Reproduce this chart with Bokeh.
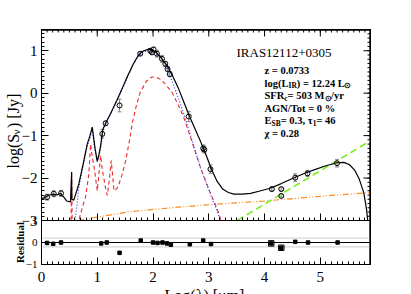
import numpy as np
from bokeh.plotting import figure
from bokeh.models import (Range1d, LinearAxis, FixedTicker, Label, BoxAnnotation,
                          Whisker, TeeHead, ColumnDataSource, CustomJSTickFormatter)
from bokeh.embed import file_html
from bokeh.resources import INLINE

# ---------------- data (log lambda [um], log S [Jy]) ----------------
tot_x = [0.0, 0.07, 0.14, 0.22, 0.28, 0.34, 0.40, 0.45, 0.52, 0.54, 0.545, 0.58, 0.67, 0.75, 0.82,
         0.87, 0.91, 0.96, 1.0, 1.03, 1.06, 1.10, 1.15, 1.25, 1.35, 1.45, 1.55, 1.65, 1.74, 1.82,
         1.90, 1.98, 2.05, 2.16, 2.25, 2.35, 2.45, 2.55, 2.65, 2.75, 2.85, 2.95, 3.05, 3.15, 3.25,
         3.35, 3.45, 3.60, 3.75, 3.90, 4.10, 4.30, 4.50, 4.70, 4.90, 5.10, 5.30, 5.42, 5.52, 5.62,
         5.70, 5.78, 5.83, 5.85]
tot_y = [-2.49, -2.45, -2.40, -2.38, -2.40, -2.36, -2.45, -2.54, -2.56, -1.86, -2.50, -2.52, -2.14, -1.65, -1.20,
         -1.00, -0.80, -1.30, -1.60, -1.45, -1.24, -0.85, -0.71, -0.45, -0.17, 0.12, 0.42, 0.70, 0.90, 0.99,
         1.03, 1.03, 0.97, 0.81, 0.65, 0.41, 0.13, -0.20, -0.53, -0.83, -1.13, -1.45, -1.80, -2.08, -2.26,
         -2.34, -2.38, -2.38, -2.36, -2.31, -2.24, -2.13, -2.01, -1.90, -1.80, -1.71, -1.64, -1.63, -1.68, -1.82,
         -2.03, -2.35, -2.75, -3.0]

sb_x = [0.60, 0.63, 0.67, 0.75, 0.82, 0.87, 0.91, 0.96, 1.0, 1.03, 1.06, 1.10, 1.15, 1.25, 1.35,
        1.45, 1.55, 1.65, 1.74, 1.82, 1.90, 1.98, 2.05, 2.15, 2.25, 2.35, 2.45, 2.55, 2.65, 2.75,
        2.85, 2.95, 3.05, 3.15, 3.21]
sb_y = [-3.0, -2.70, -2.20, -1.70, -1.25, -1.05, -0.85, -1.35, -1.62, -1.50, -1.30, -0.90, -0.73, -0.47, -0.19,
        0.10, 0.40, 0.68, 0.88, 0.97, 1.00, 0.98, 0.93, 0.85, 0.57, 0.25, -0.10, -0.49, -0.90, -1.32,
        -1.75, -2.10, -2.45, -2.78, -3.0]

cold_x = [0.53, 0.54, 0.55, 0.67, 0.73, 0.79, 0.85, 0.88, 0.91, 0.94, 0.97, 1.0, 1.03, 1.06, 1.09,
          1.12, 1.15, 1.18, 1.22, 1.25, 1.28, 1.30, 1.35, 1.39, 1.45, 1.51, 1.58, 1.63, 1.70, 1.77,
          1.88, 1.98, 2.05, 2.13, 2.23, 2.34, 2.45, 2.55, 2.65, 2.75, 2.85, 2.95, 3.05, 3.15, 3.22]
cold_y = [-3.0, -1.86, -3.0, -3.0, -2.70, -2.45, -1.90, -1.20, -1.50, -1.71, -2.00, -2.30, -1.90, -1.47, -1.80,
          -2.02, -2.25, -2.41, -2.00, -1.59, -2.00, -2.30, -2.25, -2.14, -1.90, -1.59, -1.10, -0.69, -0.30, 0.02,
          0.28, 0.38, 0.38, 0.33, 0.20, 0.02, -0.27, -0.57, -0.95, -1.35, -1.75, -2.10, -2.42, -2.72, -3.0]

agn_x = [0.66, 1.0, 1.6, 2.5, 3.2, 4.0, 5.0, 5.9]
agn_y = [-3.0, -2.92, -2.79, -2.68, -2.61, -2.54, -2.43, -2.34]

radio_x = [3.51, 5.9]
radio_y = [-3.0, -1.12]

obs_x = [0.10, 0.22, 0.35, 1.09, 1.15, 1.40, 1.77, 1.95, 1.98, 2.01, 2.07, 2.16, 2.22, 2.26, 2.30,
         2.64, 2.90, 2.92, 3.03, 4.13, 4.30, 4.30, 4.55, 4.77, 5.30]
obs_y = [-2.45, -2.37, -2.36, -0.96, -0.71, -0.29, 0.93, 1.00, 0.96, 1.03, 0.93, 0.81, 0.69, 0.57, 0.45,
         -0.55, -1.30, -1.33, -1.79, -2.26, -2.26, -2.42, -1.99, -1.89, -1.65]
obs_err = [0.07, 0.07, 0.07, 0.10, 0.05, 0.15, 0.04, 0.05, 0.05, 0.05, 0.08, 0.08, 0.06, 0.06, 0.06,
           0.12, 0.08, 0.08, 0.10, 0.04, 0.03, 0.03, 0.09, 0.07, 0.09]

res_x = [0.10, 0.21, 0.35, 1.07, 1.17, 1.40, 1.78, 2.00, 2.08, 2.17, 2.25, 2.32, 2.66, 2.90, 3.04,
         4.12, 4.30, 4.55, 4.78, 5.31]
res_y = [-0.02, -0.06, 0.0, -0.04, 0.0, -0.47, 0.09, 0.0, -0.02, 0.0, -0.04, -0.10, -0.08, 0.09, -0.07,
         -0.04, -0.24, 0.03, 0.0, 0.0]
lim_x = [4.12, 4.30]
lim_y = [-0.04, -0.24]

x_ticks = [0, 1, 2, 3, 4, 5]
y_ticks = [-3, -2, -1, 0, 1]
res_ticks = [-1, 0, 1]
res_band = 0.2

# ---------------- layout (page pixels) ----------------
FONT = "Liberation Serif"
X0, X1 = 0.0, 5.9
Y_TOP, MAIN_BOT = 1.5, -3.0
RES_BOT, RES_TOP = -1.0, 1.0
W, H = 411, 294
FL, FR, FT, FM, FB = 41, 370, 29, 220, 264   # box left/right/top, panel split, bottom
MAJ, MIN = 7, 3                               # tick lengths (px)

ppu_x = (FR - FL) / (X1 - X0)
ppu_y = (FM - FT) / (Y_TOP - MAIN_BOT)
ppu_r = (FB - FM) / (RES_TOP - RES_BOT)

x_minor = list(np.round(np.arange(X0, X1 + 0.001, 0.1), 2))
main_minor = list(np.round(np.arange(MAIN_BOT, Y_TOP + 0.01, 0.1), 2))


def px_x(px):
    return X0 + (px - FL) / ppu_x


def px_y(py):
    return Y_TOP - (py - FT) / ppu_y


p = figure(width=W, height=H,
           x_range=Range1d(px_x(0), px_x(W)),
           y_range=Range1d(px_y(H), px_y(0)),
           x_axis_location=None, y_axis_location=None, output_backend="svg",
           toolbar_location=None, min_border_left=0, min_border_right=0,
           min_border_top=0, min_border_bottom=0)
p.extra_y_ranges = {"res": Range1d(RES_BOT - (H - FB) / ppu_r, RES_TOP + FM / ppu_r)}
p.grid.grid_line_color = None
p.outline_line_color = None
p.background_fill_color = "white"
p.border_fill_color = "white"


def style(ax, labels=True, size="15px", standoff=4):
    ax.major_tick_in = MAJ
    ax.major_tick_out = 0
    ax.minor_tick_in = MIN
    ax.minor_tick_out = 0
    ax.axis_line_color = "black"
    ax.axis_line_width = 1
    ax.major_tick_line_color = "black"
    ax.minor_tick_line_color = "black"
    ax.major_label_text_font = FONT
    ax.major_label_text_font_size = size
    ax.major_label_text_color = "black"
    ax.major_label_standoff = standoff
    if not labels:
        ax.formatter = CustomJSTickFormatter(code="return ''")
        ax.major_label_standoff = 0
    return ax


minus = {-3: "\u22123", -2: "\u22122", -1: "\u22121"}
xt = lambda: FixedTicker(ticks=x_ticks, minor_ticks=x_minor)
xb = (X0, X1)

# bottom axis (labelled) and panel-split axis
p.add_layout(style(LinearAxis(ticker=xt(), y_range_name="res", fixed_location=RES_BOT,
                              bounds=xb), True, "15px", 7), "below")
p.add_layout(style(LinearAxis(ticker=xt(), fixed_location=MAIN_BOT, bounds=xb), False), "below")
# left axes
p.add_layout(style(LinearAxis(ticker=FixedTicker(ticks=y_ticks, minor_ticks=main_minor),
                              major_label_overrides=minus, fixed_location=X0,
                              bounds=(MAIN_BOT, Y_TOP)), True, "15px", 4), "left")
p.add_layout(style(LinearAxis(y_range_name="res", ticker=FixedTicker(ticks=res_ticks),
                              fixed_location=X0, bounds=(RES_BOT, RES_TOP),
                              major_label_overrides={-1: "\u22121"}), True, "11px", 4), "left")

# box edges
p.add_layout(BoxAnnotation(left=X0, right=X1, bottom=MAIN_BOT, top=Y_TOP, fill_color=None,
                           fill_alpha=0, line_color="black", line_width=1, line_alpha=1))
p.add_layout(BoxAnnotation(left=X0, right=X1, bottom=RES_BOT, top=RES_TOP, y_range_name="res",
                           fill_color=None, fill_alpha=0, line_color="black", line_width=1,
                           line_alpha=1))
edge_top = px_y(FT + 0.5)
edge_right = px_x(FR - 0.5)
p.line([X0, X1], [edge_top, edge_top], line_color="black", line_width=1.4)
p.line([edge_right, edge_right], [MAIN_BOT, Y_TOP], line_color="black", line_width=1.4)
p.line([edge_right, edge_right], [RES_BOT, RES_TOP], y_range_name="res",
       line_color="black", line_width=1.4)

# ---------------- model curves ----------------
p.line(agn_x, agn_y, line_color="#ff8c1a", line_width=1.2, line_dash="6 2 1 2 1 2")
p.line(radio_x, radio_y, line_color="#77ee22", line_width=1.6, line_dash="7 4")
p.line(cold_x, cold_y, line_color="#ee2a2a", line_width=1.1, line_dash="4 3")
p.line(sb_x, sb_y, line_color="#3a3aff", line_width=1.2, line_dash="1 2")
p.line(tot_x, tot_y, line_color="black", line_width=1.2)

# inward ticks on the top and right edges
p.segment(x0=x_minor, x1=x_minor, y0=[Y_TOP] * len(x_minor),
          y1=[Y_TOP - MIN / ppu_y] * len(x_minor), line_color="black", line_width=1)
p.segment(x0=x_ticks, x1=x_ticks, y0=[Y_TOP] * len(x_ticks),
          y1=[Y_TOP - MAJ / ppu_y] * len(x_ticks), line_color="black", line_width=1)
p.segment(x0=[X1] * len(main_minor), x1=[X1 - MIN / ppu_x] * len(main_minor),
          y0=main_minor, y1=main_minor, line_color="black", line_width=1)
p.segment(x0=[X1] * len(y_ticks), x1=[X1 - MAJ / ppu_x] * len(y_ticks), y0=y_ticks, y1=y_ticks,
          line_color="black", line_width=1)
p.segment(x0=[X1] * len(res_ticks), x1=[X1 - MAJ / ppu_x] * len(res_ticks), y0=res_ticks,
          y1=res_ticks, y_range_name="res", line_color="black", line_width=1)

# ---------------- observed points ----------------
src = ColumnDataSource(dict(x=obs_x, y=obs_y,
                            lo=[a - b for a, b in zip(obs_y, obs_err)],
                            hi=[a + b for a, b in zip(obs_y, obs_err)]))
p.add_layout(Whisker(base="x", lower="lo", upper="hi", source=src, line_color="#888888",
                     line_width=1,
                     upper_head=TeeHead(size=4, line_color="#888888"),
                     lower_head=TeeHead(size=4, line_color="#888888")))
p.scatter("x", "y", source=src, marker="circle", size=5, fill_color=None,
          line_color="black", line_width=1)

# ---------------- residuals ----------------
p.line([X0, X1], [0, 0], y_range_name="res", line_color="black", line_width=1)
for lv in (res_band, -res_band):
    p.line([X0, X1], [lv, lv], y_range_name="res", line_color="#999999",
           line_width=1, line_dash="1 1")
p.scatter(res_x, res_y, y_range_name="res", marker="square", size=3.5,
          fill_color="black", line_color="black")
p.scatter(lim_x, lim_y, y_range_name="res", marker="square", size=5.5,
          fill_color=None, line_color="black", line_width=1)


# ---------------- texts ----------------
def txt(px, py, s, size, bold=False, align="left", baseline="middle", angle=0.0):
    p.add_layout(Label(x=px_x(px), y=px_y(py), text=s, text_font=FONT,
                       text_font_size=f"{size}px",
                       text_font_style="bold" if bold else "normal",
                       text_align=align, text_baseline=baseline, angle=angle,
                       text_color="black"))


BS, SS = 10.5, 7.5
LX = 264
txt(236, 51.5, "IRAS12112+0305", 13)
txt(LX, 70, "z = 0.0733", BS, True)
txt(LX, 82.5, "log(L", BS, True)
txt(LX + 24, 85, "IR", SS, True)
txt(LX + 32.3, 82.5, ") = 12.24 L", BS, True)
txt(LX + 79.5, 85, "\u2299", SS, True)
txt(LX, 95, "SFR", BS, True)
txt(LX + 19.8, 97.5, "c", SS, True)
txt(LX + 23.1, 95, " = 503 M", BS, True)
txt(LX + 60.5, 97.5, "\u2299", SS, True)
txt(LX + 66.5, 95, "/yr", BS, True)
txt(LX, 107.5, "AGN/Tot = 0 %", BS, True)
txt(LX, 120, "E", BS, True)
txt(LX + 7.0, 122.5, "SB", SS, True)
txt(LX + 16.2, 120, " = 0.3, \u03c4", BS, True)
txt(LX + 48.2, 122.5, "1", SS, True)
txt(LX + 52.0, 120, "= 46", BS, True)
txt(LX, 132.5, "\u03c7 = 0.28", BS, True)

# y axis label (rotated): log(S_nu) [Jy]
ang = np.pi / 2
txt(12.5, 168, "log(S", 16, False, "left", "alphabetic", ang)
txt(15.5, 134, "\u03bd", 11, False, "left", "alphabetic", ang)
txt(12.5, 127.5, ") [Jy]", 16, False, "left", "alphabetic", ang)
# residual label
txt(19, 242, "Residual", 11, True, "center", "alphabetic", ang)
# x axis label
txt(204, 286, "Log(\u03bb) [\u03bcm]", 16, False, "center", "top")

open("out.html", "w").write(file_html(p, INLINE))
